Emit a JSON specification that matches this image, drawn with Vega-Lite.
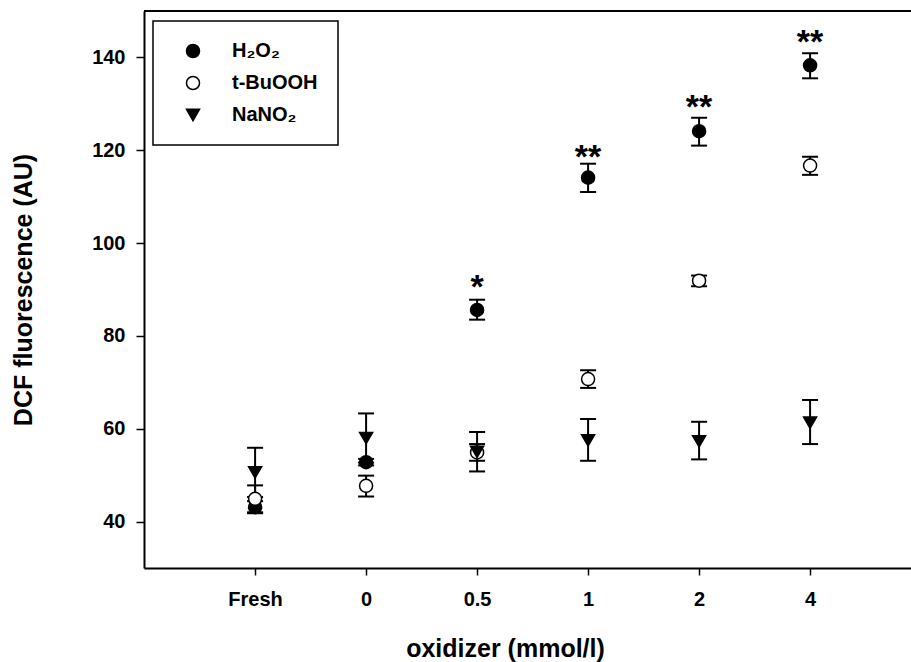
{
  "$schema": "https://vega.github.io/schema/vega-lite/v6.json",
  "width": 767,
  "height": 557,
  "autosize": {"type": "none"},
  "padding": {"left": 144, "top": 11, "right": 0, "bottom": 94},
  "background": "white",
  "config": {
    "view": {"stroke": null},
    "font": "Liberation Sans",
    "axis": {
      "domainColor": "black", "domainWidth": 2,
      "tickColor": "black", "tickWidth": 1.5,
      "labelColor": "black", "labelFontSize": 20, "labelFontWeight": "bold",
      "titleColor": "black", "titleFontSize": 25, "titleFontWeight": "bold",
      "grid": false
    },
    "legend": {"strokeColor": "black", "strokeWidth": 1.5, "fillColor": "white"}
  },
  "datasets": {
    "pts": [
      {"dose": "Fresh", "series": "H₂O₂", "mean": 43.1, "lo": 41.8, "hi": 44.4},
      {"dose": "Fresh", "series": "t-BuOOH", "mean": 44.9, "lo": 42.0, "hi": 47.8},
      {"dose": "Fresh", "series": "NaNO₂", "mean": 50.6, "lo": 45.3, "hi": 55.9},
      {"dose": "0", "series": "H₂O₂", "mean": 52.8, "lo": 52.1, "hi": 53.5},
      {"dose": "0", "series": "t-BuOOH", "mean": 47.7, "lo": 45.4, "hi": 49.9},
      {"dose": "0", "series": "NaNO₂", "mean": 58.0, "lo": 52.7, "hi": 63.3},
      {"dose": "0.5", "series": "H₂O₂", "mean": 85.6, "lo": 83.5, "hi": 87.8},
      {"dose": "0.5", "series": "t-BuOOH", "mean": 54.9, "lo": 53.1, "hi": 56.7},
      {"dose": "0.5", "series": "NaNO₂", "mean": 55.0, "lo": 50.8, "hi": 59.3},
      {"dose": "1", "series": "H₂O₂", "mean": 114.1, "lo": 111.0, "hi": 117.1},
      {"dose": "1", "series": "t-BuOOH", "mean": 70.7, "lo": 68.8, "hi": 72.6},
      {"dose": "1", "series": "NaNO₂", "mean": 57.5, "lo": 53.1, "hi": 62.1},
      {"dose": "2", "series": "H₂O₂", "mean": 124.1, "lo": 121.0, "hi": 127.0},
      {"dose": "2", "series": "t-BuOOH", "mean": 91.9, "lo": 90.7, "hi": 93.0},
      {"dose": "2", "series": "NaNO₂", "mean": 57.3, "lo": 53.4, "hi": 61.5},
      {"dose": "4", "series": "H₂O₂", "mean": 138.3, "lo": 135.5, "hi": 140.9},
      {"dose": "4", "series": "t-BuOOH", "mean": 116.7, "lo": 114.7, "hi": 118.6},
      {"dose": "4", "series": "NaNO₂", "mean": 61.3, "lo": 56.7, "hi": 66.2}
    ],
    "stars": [
      {"dose": "0.5", "sig": "*", "pos": 91.6},
      {"dose": "1", "sig": "**", "pos": 119.7},
      {"dose": "2", "sig": "**", "pos": 130.3},
      {"dose": "4", "sig": "**", "pos": 144.4}
    ],
    "frame": [{"edge": 150}]
  },
  "encoding": {
    "x": {
      "field": "dose", "type": "ordinal",
      "scale": {"type": "point", "domain": ["Fresh", "0", "0.5", "1", "2", "4"], "padding": 0.955, "align": 0.524},
      "axis": {
        "title": "oxidizer (mmol/l)", "labelAngle": 0, "tickSize": 7, "labelPadding": 14,
        "titleX": 361, "titleY": 80, "titleAlign": "center", "titleBaseline": "middle", "titleAnchor": null
      }
    }
  },
  "layer": [
    {
      "data": {"name": "frame"},
      "mark": {"type": "rule", "color": "black", "strokeWidth": 2},
      "encoding": {"x": null, "y": {"field": "edge", "type": "quantitative", "scale": {"domain": [30, 150], "nice": false, "zero": false}}}
    },
    {
      "data": {"name": "pts"},
      "mark": {"type": "rule", "color": "black", "strokeWidth": 2},
      "encoding": {
        "y": {"field": "lo", "type": "quantitative"},
        "y2": {"field": "hi"}
      }
    },
    {
      "data": {"name": "pts"},
      "mark": {"type": "tick", "orient": "horizontal", "size": 16, "thickness": 2, "color": "black", "opacity": 1},
      "encoding": {"y": {"field": "lo", "type": "quantitative"}}
    },
    {
      "data": {"name": "pts"},
      "mark": {"type": "tick", "orient": "horizontal", "size": 16, "thickness": 2, "color": "black", "opacity": 1},
      "encoding": {"y": {"field": "hi", "type": "quantitative"}}
    },
    {
      "data": {"name": "pts"},
      "mark": {"type": "point", "filled": true, "size": 170, "strokeWidth": 1.5, "opacity": 1},
      "encoding": {
        "y": {
          "field": "mean", "type": "quantitative",
          "scale": {"domain": [30, 150], "nice": false, "zero": false},
          "axis": {
            "title": "DCF fluorescence (AU)", "values": [40, 60, 80, 100, 120, 140],
            "tickSize": 8, "labelPadding": 11,
            "titleX": -121, "titleY": 278.5, "titleAngle": -90, "titleAlign": "center", "titleBaseline": "middle", "titleAnchor": null
          }
        },
        "fill": {
          "field": "series", "type": "nominal",
          "scale": {"domain": ["H₂O₂", "t-BuOOH", "NaNO₂"], "range": ["black", "white", "black"]},
          "legend": {
            "title": null, "orient": "none", "legendX": 9, "legendY": 10, "padding": 20,
            "symbolSize": 170, "symbolStrokeWidth": 1.5,
            "symbolOffset": 10, "labelOffset": 29, "labelFontSize": 20, "labelFontWeight": "bold",
            "labelColor": "black", "rowPadding": 12, "labelLimit": 300
          }
        },
        "stroke": {
          "field": "series", "type": "nominal",
          "scale": {"domain": ["H₂O₂", "t-BuOOH", "NaNO₂"], "range": ["black", "black", "black"]},
          "legend": {
            "title": null, "orient": "none", "legendX": 9, "legendY": 10, "padding": 20,
            "symbolSize": 170, "symbolStrokeWidth": 1.5,
            "symbolOffset": 10, "labelOffset": 29, "labelFontSize": 20, "labelFontWeight": "bold",
            "labelColor": "black", "rowPadding": 12, "labelLimit": 300
          }
        },
        "shape": {
          "field": "series", "type": "nominal",
          "scale": {"domain": ["H₂O₂", "t-BuOOH", "NaNO₂"], "range": ["circle", "circle", "triangle-down"]},
          "legend": {
            "title": null, "orient": "none", "legendX": 9, "legendY": 10, "padding": 20,
            "symbolSize": 170, "symbolStrokeWidth": 1.5,
            "symbolOffset": 10, "labelOffset": 29, "labelFontSize": 20, "labelFontWeight": "bold",
            "labelColor": "black", "rowPadding": 12, "labelLimit": 300
          }
        }
      }
    },
    {
      "data": {"name": "stars"},
      "mark": {"type": "text", "fontSize": 34, "fontWeight": "bold", "baseline": "alphabetic", "align": "center", "dy": 16, "color": "black"},
      "encoding": {
        "y": {"field": "pos", "type": "quantitative"},
        "text": {"field": "sig"}
      }
    }
  ]
}
